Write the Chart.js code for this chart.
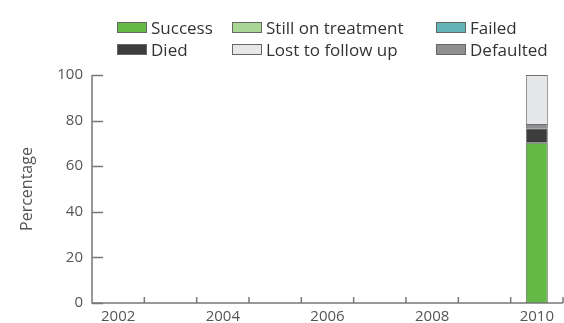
<!DOCTYPE html>
<html>
<head>
<meta charset="utf-8">
<script src="https://cdn.jsdelivr.net/npm/chart.js@4.4.1/dist/chart.umd.min.js"></script>
<style>
  html, body { margin: 0; padding: 0; background: #fff; }
  #wrap { position: relative; width: 564px; height: 323px; }
  #legend { position: absolute; left: 0; top: 0; width: 564px; height: 70px; font-family: "Open Sans", sans-serif; font-size: 17px; color: #333; }
  .li { position: absolute; display: flex; align-items: center; white-space: nowrap; }
  .box { width: 28px; height: 9px; border: 1px solid #666; margin-right: 4px; }
</style>
</head>
<body>
<div id="wrap">
  <canvas id="c" width="564" height="323"></canvas>
  <div id="legend"></div>
</div>
<script>
const years = ['2002','2003','2004','2005','2006','2007','2008','2009','2010'];
const success        = [null,null,null,null,null,null,null,null,70.3];
const stillOnTreat   = [null,null,null,null,null,null,null,null,0];
const failed         = [null,null,null,null,null,null,null,null,0];
const died           = [null,null,null,null,null,null,null,null,6.3];
const defaulted      = [null,null,null,null,null,null,null,null,1.9];
const lostToFollowUp = [null,null,null,null,null,null,null,null,21.5];
const yTicks = [0,20,40,60,80,100];

const series = [
  {label:'Success', data: success, color:'#62b946'},
  {label:'Still on treatment', data: stillOnTreat, color:'#a9d595'},
  {label:'Failed', data: failed, color:'#63b4b7'},
  {label:'Died', data: died, color:'#3d3d3d'},
  {label:'Defaulted', data: defaulted, color:'#8f8f92'},
  {label:'Lost to follow up', data: lostToFollowUp, color:'#e6e7e9'}
];
const legendOrder = ['Success','Still on treatment','Failed','Died','Lost to follow up','Defaulted'];

const inwardTicks = {
  id: 'inwardTicks',
  afterDraw(chart) {
    const ctx = chart.ctx, x = chart.scales.x, y = chart.scales.y, a = chart.chartArea;
    ctx.save();
    ctx.strokeStyle = '#777';
    ctx.lineWidth = 1.5;
    yTicks.forEach(v => {
      const py = Math.round(y.getPixelForValue(v)) + 0.5;
      ctx.beginPath(); ctx.moveTo(a.left, py); ctx.lineTo(a.left + 11, py); ctx.stroke();
    });
    const n = years.length;
    for (let i = 1; i < n; i++) {
      const px = (x.getPixelForValue(i - 1) + x.getPixelForValue(i)) / 2;
      ctx.beginPath(); ctx.moveTo(px, a.bottom); ctx.lineTo(px, a.bottom - 6); ctx.stroke();
    }
    const lastPx = x.getPixelForValue(n - 1) + (x.getPixelForValue(n - 1) - x.getPixelForValue(n - 2)) / 2;
    ctx.beginPath(); ctx.moveTo(lastPx, a.bottom); ctx.lineTo(lastPx, a.bottom - 6); ctx.stroke();
    ctx.beginPath(); ctx.moveTo(a.left, a.top); ctx.lineTo(a.left, a.bottom); ctx.lineTo(a.right, a.bottom); ctx.stroke();
    ctx.restore();
  }
};

const chart = new Chart(document.getElementById('c'), {
  type: 'bar',
  data: {
    labels: years,
    datasets: series.map(s => ({
      label: s.label, data: s.data, backgroundColor: s.color,
      borderColor: '#6e6e6e', borderWidth: 1,
      categoryPercentage: 1, barPercentage: 0.42
    }))
  },
  options: {
    responsive: false,
    animation: false,
    layout: { padding: { left: 0, right: 1, top: 75, bottom: 0 } },
    plugins: { legend: { display: false }, tooltip: { enabled: false } },
    scales: {
      x: {
        stacked: true,
        grid: { display: false, offset: true, drawTicks: false },
        border: { display: false },
        ticks: {
          autoSkip: false, maxRotation: 0, padding: 5,
          color: '#555', font: { family: 'Open Sans', size: 15 },
          callback: (v, i) => (i % 2 === 0 ? years[i] : '')
        },
        afterFit: s => { s.height = 20; }
      },
      y: {
        stacked: true, min: 0, max: 100,
        grid: { display: false, drawTicks: false },
        border: { display: false },
        ticks: { stepSize: 20, padding: 9, color: '#555', font: { family: 'Open Sans', size: 15 } },
        title: { display: true, text: 'Percentage', color: '#555', font: { family: 'Open Sans', size: 16 }, padding: { top: 18, bottom: 0 } },
        afterFit: s => { s.width = 92; }
      }
    }
  },
  plugins: [inwardTicks]
});

const legendEl = document.getElementById('legend');
const colX = [117, 232, 436];
const rowY = [17, 39];
const items = chart.options.plugins.legend.labels.generateLabels(chart);
legendOrder.forEach((name, k) => {
  const it = items.find(d => d.text === name);
  const div = document.createElement('div');
  div.className = 'li';
  div.style.left = colX[k % 3] + 'px';
  div.style.top = rowY[Math.floor(k / 3)] + 'px';
  div.style.height = '20px';
  const b = document.createElement('span');
  b.className = 'box';
  b.style.background = it.fillStyle;
  const t = document.createElement('span');
  t.textContent = it.text;
  div.appendChild(b); div.appendChild(t);
  legendEl.appendChild(div);
});
</script>
</body>
</html>
